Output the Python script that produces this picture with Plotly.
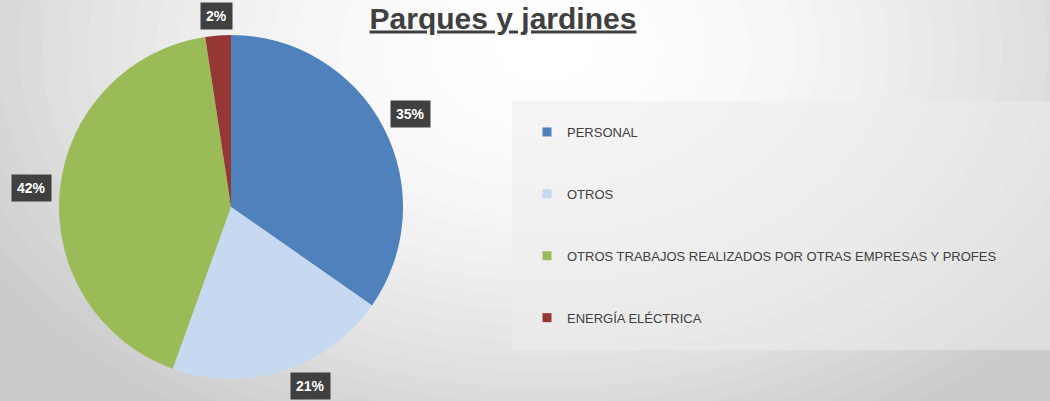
import math
import plotly.graph_objects as go

# Datos
categorias = ['PERSONAL', 'OTROS', 'OTROS TRABAJOS REALIZADOS POR OTRAS EMPRESAS Y PROFES', 'ENERGÍA ELÉCTRICA']
valores = [34.7, 20.8, 42.1, 2.4]
colores = ['#4f81bd', '#c6d9f1', '#9bbb59', '#953735']

W, H = 1050, 401
cx, cy, R = 231, 207, 172  # pie centre / radius in px


def px(x):
    return x / W


def py(y):
    return 1 - y / H


fig = go.Figure()

fig.add_trace(go.Pie(
    labels=categorias, values=valores,
    marker=dict(colors=colores, line=dict(width=0)),
    sort=False, direction='clockwise', rotation=0,
    textinfo='none', showlegend=False, hoverinfo='label+percent',
    domain=dict(x=[px(cx - R), px(cx + R)], y=[py(cy + R), py(cy - R)]),
))

# leyenda con trazas auxiliares (para poder separar las entradas)
for i, (cat, col) in enumerate(zip(categorias, colores)):
    fig.add_trace(go.Scatter(
        x=[None], y=[None], mode='markers', name=cat, legendgroup=str(i),
        marker=dict(symbol='square', size=9, color=col),
    ))

# etiquetas de porcentaje (fuera del sector, dentro de la figura)
total = sum(valores)
acum = 0
for v in valores:
    mid = (acum + v / 2) / total * 2 * math.pi
    acum += v
    s, c = math.sin(mid), math.cos(mid)
    r = R + 6 + abs(21 * s) + abs(12 * c)
    if cy - r * c > H - 15:
        c = (cy - (H - 15)) / r
        s = math.copysign(math.sqrt(1 - c * c), s)
    fig.add_annotation(
        x=px(cx + r * s), y=py(cy - r * c), xref='paper', yref='paper',
        xanchor='center', yanchor='middle',
        text='<b>%d%%</b>' % round(v / total * 100),
        showarrow=False, bgcolor='#404040', borderpad=5,
        font=dict(family='Liberation Sans, Arial', size=14, color='white'),
    )

# fondo degradado radial
shapes = []
n = 28
for k in range(n):
    d = 1 - k / n
    g = int(round(255 - 50 * d ** 1.8))
    rx, ry = 640 * d, 430 * d
    shapes.append(dict(
        type='circle', xref='paper', yref='paper', layer='below',
        x0=px(545 - rx), x1=px(545 + rx), y0=py(50 + ry), y1=py(50 - ry),
        fillcolor='rgb(%d,%d,%d)' % (g, g, g), line=dict(width=0),
    ))
shapes.append(dict(
    type='rect', xref='paper', yref='paper', layer='above',
    x0=px(512), x1=px(1050), y0=py(350), y1=py(101),
    fillcolor='rgba(236,236,236,0.55)', line=dict(width=0),
))

fig.update_layout(
    width=W, height=H,
    margin=dict(l=0, r=0, t=0, b=0),
    paper_bgcolor='#cbcbcb',
    plot_bgcolor='rgba(0,0,0,0)',
    shapes=shapes,
    xaxis=dict(visible=False),
    yaxis=dict(visible=False),
    title=dict(
        text='<b><u>Parques y jardines</u></b>',
        x=503 / W, xanchor='center', y=1 - 18 / H, yanchor='middle',
        font=dict(family='Liberation Sans, Arial', size=30, color='#404040'),
    ),
    legend=dict(
        x=px(527), xanchor='left', y=py(117), yanchor='top',
        bgcolor='rgba(0,0,0,0)', tracegroupgap=42,
        font=dict(family='Liberation Sans', size=13, color='#404040'),
    ),
)

fig.write_html('out.html', config={'displayModeBar': False},
               post_script="document.body.style.margin='0';document.body.style.overflow='hidden';")
